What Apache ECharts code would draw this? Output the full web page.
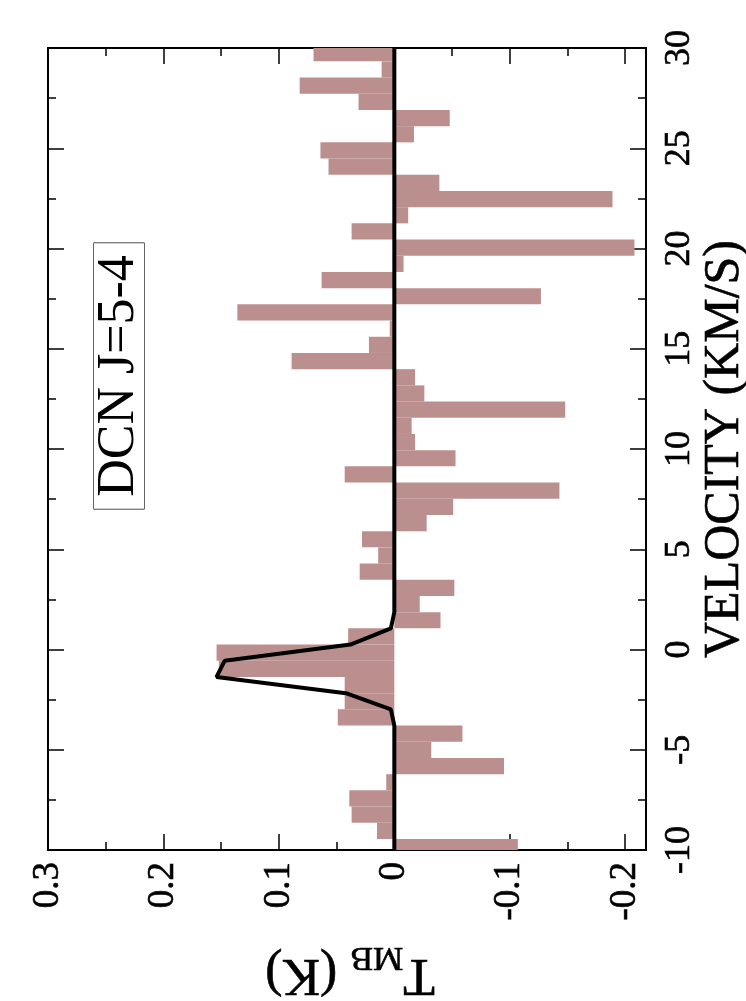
<!DOCTYPE html>
<html><head><meta charset="utf-8">
<script src="https://cdn.jsdelivr.net/npm/echarts@6/dist/echarts.min.js"></script>
<style>html,body{margin:0;padding:0;background:#fff}#c{width:746px;height:1001px}</style>
</head><body><div id="c"></div>
<script>
// ---- data ----
const channelVelocity = [-9.854, -9.046, -8.238, -7.430, -6.622, -5.814, -5.006, -4.198, -3.390, -2.582,
  -1.774, -0.966, -0.158, 0.650, 1.458, 2.266, 3.074, 3.882, 4.690, 5.498,
  6.306, 7.114, 7.922, 8.730, 9.538, 10.346, 11.154, 11.962, 12.770, 13.578,
  14.386, 15.194, 16.002, 16.810, 17.618, 18.426, 19.234, 20.042, 20.850, 21.658,
  22.466, 23.274, 24.082, 24.890, 25.698, 26.506, 27.314, 28.122, 28.930, 29.738];
const channelTmb = [-0.107, 0.015, 0.037, 0.039, 0.007, -0.095, -0.032, -0.059, 0.049, 0.043,
  0.043, 0.152, 0.154, 0.040, -0.040, -0.022, -0.052, 0.030, 0.014, 0.028,
  -0.028, -0.051, -0.143, 0.043, -0.053, -0.018, -0.015, -0.148, -0.026, -0.018,
  0.089, 0.022, 0.004, 0.136, -0.127, 0.063, -0.008, -0.208, 0.037, -0.012,
  -0.189, -0.039, 0.057, 0.064, -0.017, -0.048, 0.031, 0.082, 0.011, 0.070];
const channelWidth = 0.808;
const fitVelocity = [-10, -3.794, -2.986, -2.178, -1.370, -0.562, 0.246, 1.054, 1.862, 30];
const fitTmb = [0, 0, 0.003, 0.042, 0.154, 0.147, 0.038, 0.003, 0, 0];
const tmbTickValues = [0.3, 0.2, 0.1, 0, -0.1, -0.2];
const tmbTickLabels = ['0.3', '0.2', '0.1', '0', '-0.1', '-0.2'];
const tmbRange = [-0.218, 0.3];
const velTickValues = [-10, -5, 0, 5, 10, 15, 20, 25, 30];
const velTickLabels = ['-10', '-5', '0', '5', '10', '15', '20', '25', '30'];
const velRange = [-10, 30];
const lineLabel = 'DCN J=5-4';

// ---- chart ----
const FONT = "Liberation Serif";
const barColor = '#BC8F8F';
const chart = echarts.init(document.getElementById('c'), null, {renderer: 'canvas'});

// horizontal axis shows -T_MB so that T_MB decreases to the right
function tmbFormatter(v) {
  for (let i = 0; i < tmbTickValues.length; i++) {
    if (Math.abs(-v - tmbTickValues[i]) < 1e-6) return tmbTickLabels[i];
  }
  return '';
}
function velFormatter(v) {
  for (let i = 0; i < velTickValues.length; i++) {
    if (Math.abs(v - velTickValues[i]) < 1e-6) return velTickLabels[i];
  }
  return '';
}
const heavy = {textBorderColor: '#000', textBorderWidth: 0.6};
const axLine = {show: true, onZero: false, lineStyle: {color: '#000', width: 2}};
function xAx(pos, interval, len, labels, extra) {
  return Object.assign({
    type: 'value', position: pos, min: -tmbRange[1], max: -tmbRange[0], interval: interval,
    axisLine: axLine,
    axisTick: {show: true, inside: true, length: len, lineStyle: {color: '#000', width: 1.5}},
    axisLabel: labels ? Object.assign({show: true, rotate: 90, margin: 12, formatter: tmbFormatter,
      fontFamily: FONT, fontSize: 37, color: '#000'}, heavy) : {show: false},
    splitLine: {show: false}
  }, extra || {});
}
const option = {
  backgroundColor: '#fff',
  animation: false,
  textStyle: {fontFamily: FONT},
  grid: {left: 48, right: 100, top: 48, bottom: 151, containLabel: false, outerBoundsMode: 'none'},
  xAxis: [
    xAx('bottom', 0.1, 16, true, {
      name: '{t|T}{s|MB}{k| (K)}', nameLocation: 'middle', nameGap: 90, nameRotate: 180,
      nameMoveOverlap: false,
      nameTextStyle: {rich: {
        t: Object.assign({fontFamily: FONT, fontSize: 52, color: '#000', lineHeight: 50, verticalAlign: 'bottom', padding: [0, 0, 8, 0]}, heavy),
        k: Object.assign({fontFamily: FONT, fontSize: 52, color: '#000', lineHeight: 50, verticalAlign: 'bottom', padding: [0, 6, 8, 0]}, heavy),
        s: Object.assign({fontFamily: FONT, fontSize: 34, color: '#000', lineHeight: 50, verticalAlign: 'bottom'}, heavy)
      }}
    }),
    xAx('bottom', 0.05, 8, false),
    xAx('top', 0.1, 16, false),
    xAx('top', 0.05, 8, false)
  ],
  yAxis: [
    {type: 'value', position: 'right', min: velRange[0], max: velRange[1], interval: 5,
      axisLine: axLine,
      axisTick: {show: true, inside: true, length: 16, lineStyle: {color: '#000', width: 1.5}},
      minorTick: {show: true, splitNumber: 2, length: 8, lineStyle: {color: '#000', width: 1.5}},
      axisLabel: Object.assign({show: true, rotate: 90, margin: 16, formatter: velFormatter,
        fontFamily: FONT, fontSize: 36, color: '#000'}, heavy),
      splitLine: {show: false}, minorSplitLine: {show: false},
      name: 'VELOCITY (KM/S)', nameLocation: 'middle', nameGap: 54, nameRotate: 90,
      nameMoveOverlap: false,
      nameTextStyle: Object.assign({fontFamily: FONT, fontSize: 50, color: '#000'}, heavy)
    },
    {type: 'value', position: 'left', min: velRange[0], max: velRange[1], interval: 5,
      axisLine: axLine,
      axisTick: {show: true, inside: true, length: 16, lineStyle: {color: '#000', width: 1.5}},
      minorTick: {show: true, splitNumber: 2, length: 8, lineStyle: {color: '#000', width: 1.5}},
      axisLabel: {show: false}, splitLine: {show: false}, minorSplitLine: {show: false}
    }
  ],
  graphic: [{
    type: 'text', x: 119, y: 376, rotation: Math.PI / 2,
    style: Object.assign({text: lineLabel, fontFamily: FONT, fontSize: 52, fill: '#000',
      align: 'center', verticalAlign: 'middle',
      borderColor: '#000', borderWidth: 1.5, padding: [2, 12, 0, 12], lineHeight: 48,
      backgroundColor: '#fff'}, heavy)
  }],
  series: [
    {
      type: 'custom', xAxisIndex: 0, yAxisIndex: 0, z: 2,
      data: channelVelocity.map((v, i) => [-channelTmb[i], v]),
      renderItem: function (params, api) {
        const t = api.value(0), v = api.value(1);
        const p0 = api.coord([0, v + channelWidth / 2]);
        const p1 = api.coord([t, v - channelWidth / 2]);
        const rect = echarts.graphic.clipRectByRect({
          x: Math.min(p0[0], p1[0]), y: Math.min(p0[1], p1[1]),
          width: Math.abs(p1[0] - p0[0]), height: Math.abs(p1[1] - p0[1])
        }, params.coordSys);
        return rect && {type: 'rect', shape: rect, style: {fill: barColor}};
      }
    },
    {
      type: 'line', xAxisIndex: 0, yAxisIndex: 0, z: 3,
      data: fitVelocity.map((v, i) => [-fitTmb[i], v]),
      showSymbol: false, symbol: 'none',
      lineStyle: {color: '#000', width: 4}
    }
  ]
};
chart.setOption(option);
</script>
</body></html>
